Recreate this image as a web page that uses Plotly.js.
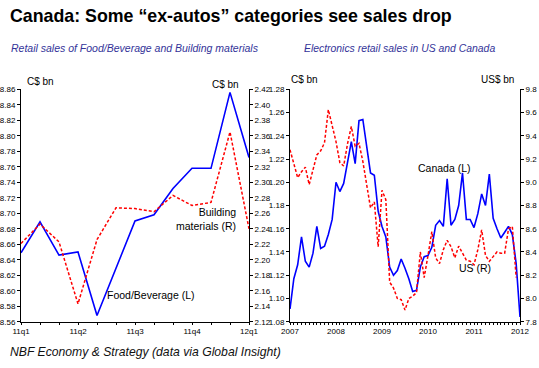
<!DOCTYPE html>
<html><head><meta charset="utf-8">
<script src="https://cdn.plot.ly/plotly-3.0.1.min.js"></script>
<style>html,body{margin:0;padding:0;background:#fff;}#chart{width:539px;height:368px;}</style>
</head><body><div id="chart"></div>
<script>
// ---- Left chart: monthly, Jan 2011 .. Jan 2012 ----
const qMonths = ['2011-01','2011-02','2011-03','2011-04','2011-05','2011-06','2011-07','2011-08','2011-09','2011-10','2011-11','2011-12','2012-01'];
const qTickText = ['11q1','','','11q2','','','11q3','','','11q4','','','12q1'];
const foodBeverage = [8.649, 8.689, 8.646, 8.650, 8.568, 8.630, 8.690, 8.698, 8.732, 8.758, 8.758, 8.856, 8.772];
const buildingMaterials = [2.221, 2.246, 2.223, 2.143, 2.226, 2.267, 2.266, 2.262, 2.283, 2.270, 2.274, 2.365, 2.240];

// ---- Right chart: monthly, Jan 2007 .. Jan 2012 ----
const eYears = ['2007','2008','2009','2010','2011','2012'];
const eMonths = [];
const eTickText = [];
eYears.forEach(function(yr, i){
  const last = (i === eYears.length - 1) ? 1 : 12;
  for (let m = 1; m <= last; m++) {
    eMonths.push(yr + '-' + (m < 10 ? '0' + m : '' + m));
    eTickText.push(m === 1 ? yr : '');
  }
});
const canadaElectronics = [
  1.091, 1.117, 1.129, 1.153, 1.132, 1.127, 1.139, 1.162, 1.143, 1.145, 1.155, 1.168,
  1.200, 1.192, 1.199, 1.216, 1.235, 1.216, 1.253, 1.254, 1.232, 1.208, 1.206, 1.175,
  1.162, 1.153, 1.127, 1.120, 1.124, 1.134, 1.126, 1.117, 1.106, 1.107, 1.127, 1.136,
  1.137, 1.144, 1.163, 1.167, 1.162, 1.203, 1.163, 1.168, 1.180, 1.208, 1.168, 1.168,
  1.161, 1.173, 1.190, 1.180, 1.207, 1.169, 1.160, 1.152, 1.157, 1.162, 1.155, 1.130,
  1.084
];
const usElectronics = [
  9.28, 9.15, 9.04, 9.09, 9.13, 8.98, 9.12, 9.235, 9.27, 9.34, 9.625, 9.49,
  9.35, 9.17, 9.14, 9.33, 9.48, 9.31, 9.335, 9.18, 8.98, 8.78, 8.83, 8.445,
  8.93, 8.85, 8.14, 8.09, 8.00, 7.99, 7.90, 8.00, 8.02, 8.05, 8.40, 8.18,
  8.37, 8.575, 8.35, 8.30, 8.42, 8.50, 8.445, 8.35, 8.45, 8.39, 8.33, 8.32,
  8.29, 8.42, 8.59, 8.37, 8.32, 8.36, 8.40, 8.39, 8.39, 8.60, 8.62, 8.18
];

const W = 539, H = 368;
const px = x => x / W;
const py = y => 1 - y / H;
const FONT = '"Liberation Sans", Arial, sans-serif';
const BLUE = '#0000ff', RED = '#ff0000';

const yDom = [py(321.7), py(89.3)];

const traces = [
  {x: qMonths, y: foodBeverage, xaxis: 'x', yaxis: 'y', type: 'scatter', mode: 'lines',
   line: {color: BLUE, width: 1.6}, hoverinfo: 'skip'},
  {x: qMonths, y: buildingMaterials, xaxis: 'x', yaxis: 'y2', type: 'scatter', mode: 'lines',
   line: {color: RED, width: 1.5, dash: '3px,2px'}, hoverinfo: 'skip'},
  {x: eMonths, y: canadaElectronics, xaxis: 'x2', yaxis: 'y3', type: 'scatter', mode: 'lines',
   line: {color: BLUE, width: 1.6}, hoverinfo: 'skip'},
  {x: eMonths.slice(0, usElectronics.length), y: usElectronics, xaxis: 'x2', yaxis: 'y4', type: 'scatter', mode: 'lines',
   line: {color: RED, width: 1.5, dash: '3px,2px'}, hoverinfo: 'skip'}
];

const tickFont = {family: FONT, size: 8, color: '#000'};
const baseAxis = {showline: true, linecolor: '#000', linewidth: 1, ticks: 'outside', ticklen: 3,
  tickcolor: '#000', tickwidth: 1, showgrid: false, zeroline: false, tickfont: tickFont, fixedrange: true};

const layout = {
  width: W, height: H, margin: {l: 0, r: 0, t: 0, b: 0},
  paper_bgcolor: '#fff', plot_bgcolor: 'rgba(0,0,0,0)', showlegend: false,
  xaxis: Object.assign({}, baseAxis, {domain: [px(21), px(249)], anchor: 'y', type: 'category',
    range: [0, qMonths.length - 1], tickvals: qMonths, ticktext: qTickText, ticklen: 2}),
  yaxis: Object.assign({}, baseAxis, {domain: yDom, anchor: 'x', range: [8.56, 8.86], tick0: 8.56, dtick: 0.02, tickformat: '.2f'}),
  yaxis2: Object.assign({}, baseAxis, {overlaying: 'y', side: 'right', anchor: 'x', range: [2.12, 2.42], tick0: 2.12, dtick: 0.02, tickformat: '.2f'}),
  xaxis2: Object.assign({}, baseAxis, {domain: [px(290), px(520)], anchor: 'y3', type: 'category',
    range: [0, eMonths.length - 1], tickvals: eMonths, ticktext: eTickText, ticklen: 2}),
  yaxis3: Object.assign({}, baseAxis, {domain: yDom, anchor: 'x2', range: [1.08, 1.28], tick0: 1.08, dtick: 0.02, tickformat: '.2f'}),
  yaxis4: Object.assign({}, baseAxis, {overlaying: 'y3', side: 'right', anchor: 'x2', range: [7.8, 9.8], tick0: 7.8, dtick: 0.2, tickformat: '.1f'}),
  annotations: [
    {text: '<b>Canada: Some \u201cex-autos\u201d categories see sales drop</b>', x: px(8), y: py(16), xanchor: 'left', yanchor: 'middle',
     font: {family: FONT, size: 17.8, color: '#000'}},
    {text: '<i>Retail sales of Food/Beverage and Building materials</i>', x: px(9), y: py(48), xanchor: 'left', yanchor: 'middle',
     font: {family: FONT, size: 10.5, color: '#333399'}},
    {text: '<i>Electronics retail sales in US and Canada</i>', x: px(302), y: py(48), xanchor: 'left', yanchor: 'middle',
     font: {family: FONT, size: 10.4, color: '#333399'}},
    {text: '<i>NBF Economy &amp; Strategy (data via Global Insight)</i>', x: px(8), y: py(352), xanchor: 'left', yanchor: 'middle',
     font: {family: FONT, size: 12.2, color: '#111'}},
    {text: 'C$ bn', x: px(40), y: py(81), xanchor: 'center', yanchor: 'middle', font: {family: FONT, size: 10, color: '#000'}},
    {text: 'C$ bn', x: px(225), y: py(84), xanchor: 'center', yanchor: 'middle', font: {family: FONT, size: 10, color: '#000'}},
    {text: 'C$ bn', x: px(304), y: py(80), xanchor: 'center', yanchor: 'middle', font: {family: FONT, size: 10, color: '#000'}},
    {text: 'US$ bn', x: px(497), y: py(80), xanchor: 'center', yanchor: 'middle', font: {family: FONT, size: 10, color: '#000'}},
    {text: 'Building<br>materials (R)', x: px(238), y: py(219), xanchor: 'right', yanchor: 'middle', align: 'right',
     font: {family: FONT, size: 10.5, color: '#000'}},
    {text: 'Food/Beverage (L)', x: px(105), y: py(295), xanchor: 'left', yanchor: 'middle', font: {family: FONT, size: 10.5, color: '#000'}},
    {text: 'Canada (L)', x: px(416), y: py(168), xanchor: 'left', yanchor: 'middle', font: {family: FONT, size: 10.5, color: '#000'}},
    {text: 'US (R)', x: px(457), y: py(268), xanchor: 'left', yanchor: 'middle', font: {family: FONT, size: 10.5, color: '#000'}}
  ].map(a => Object.assign({xref: 'paper', yref: 'paper', showarrow: false}, a))
};

Plotly.newPlot('chart', traces, layout, {staticPlot: true, displayModeBar: false});
</script>
</body></html>
